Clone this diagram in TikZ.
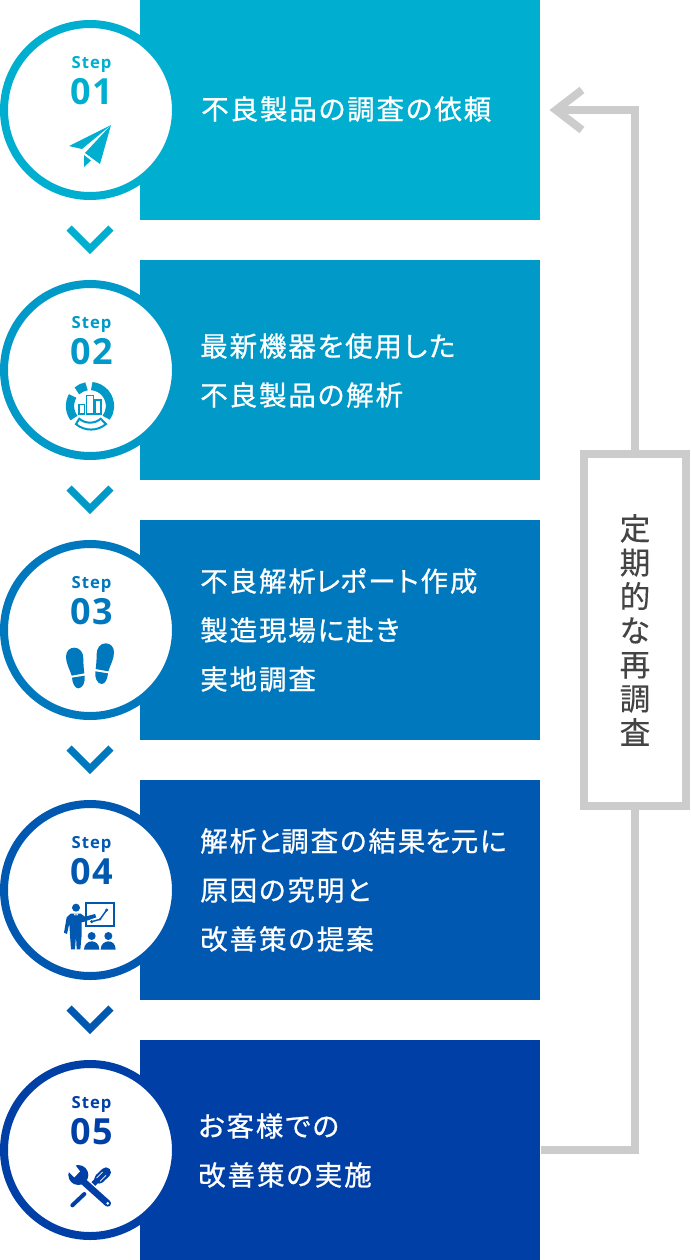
\documentclass[tikz,border=0pt]{standalone}
\usepackage{fontspec}
\setmainfont{Noto Sans CJK JP}
\newfontfamily\jpbody{Noto Sans CJK JP}[FakeBold=0.8,LetterSpace=7,RawFeature={+palt}]
\newfontfamily\jpside{Noto Sans CJK JP}[FakeBold=0.3]
\newfontfamily\stepfont{Open Sans}[BoldFont=* Bold,LetterSpace=6]
\newfontfamily\numfont{Open Sans}[BoldFont=* Bold,LetterSpace=4]
\definecolor{ca}{HTML}{00AFCF}\definecolor{cb}{HTML}{0099C8}\definecolor{cc}{HTML}{0078BD}
\definecolor{cd}{HTML}{0058B0}\definecolor{ce}{HTML}{0040A6}\definecolor{gr}{HTML}{CCCCCC}
\definecolor{ink}{HTML}{444444}
\tikzset{
 x=0.75pt,y=-0.75pt,
 card/.style={rectangle,minimum width=300pt,minimum height=165pt,inner sep=0pt,anchor=north west,fill=#1},
 ring/.style={circle,minimum size=129pt,inner sep=0pt,fill=white,draw=#1,line width=6pt},
 cardtext/.style={anchor=west,inner sep=0pt,text=white,align=left,font=\jpbody\fontsize{20.6pt}{36.75pt}\selectfont},
 steplabel/.style={inner sep=0pt,text=#1,font=\stepfont\bfseries\fontsize{12.5pt}{12.5pt}\selectfont},
 numlabel/.style={inner sep=0pt,text=#1,font=\numfont\bfseries\fontsize{27pt}{27pt}\selectfont},
 chev/.style={draw=#1,line width=5.4pt,miter limit=10},
 feedback/.style={draw=gr,line width=6pt},
 sidebox/.style={rectangle,draw=gr,line width=6pt,fill=white,minimum width=76.5pt,minimum height=264pt,inner sep=0pt},
 sidetext/.style={inner sep=0pt,text=ink,align=center,font=\jpside\fontsize{23pt}{25.5pt}\selectfont},
 icon/.style={shift={#1},x=0.25pt,y=-0.25pt},
}
\newcommand{\stepcard}[4]{%
 \node[card=#2] (box#1) at (140,#3) {};
 \node[ring=#2] (ring#1) at (90,#3+110) {};
 \node[steplabel=#2] (step#1) at (91.5,#3+64.5) {Step};
 \node[numlabel=#2] (num#1) at (91.5,#3+91.5) {#4};
}
\begin{document}
\begin{tikzpicture}
\useasboundingbox (0,0) rectangle (690,1260);
\stepcard{a}{ca}{0}{01}
\stepcard{b}{cb}{260}{02}
\stepcard{c}{cc}{520}{03}
\stepcard{d}{cd}{780}{04}
\stepcard{e}{ce}{1040}{05}
\node[cardtext] (ta) at (201,109) {不良製品の調査の依頼};
\node[cardtext] (tb) at (200,370.5) {最新機器を使用した\\不良製品の解析};
\node[cardtext] (tc) at (200,630) {不良解析\kern0pt レ\kern0pt ポート作成\\製造現場に赴き\\実地調査};
\node[cardtext] (td) at (200,890) {解析\kern0pt と\kern0pt 調査の結果\kern0pt を\kern0pt 元に\\原因の究明と\\改善策の提案};
\node[cardtext] (te) at (198,1150.5) {お客様での\\改善策の実施};
% chevrons
\draw[chev=ca] (69,228) -- (90,249) -- (111,228);
\draw[chev=cb] (69,488) -- (90,509) -- (111,488);
\draw[chev=cc] (69,748) -- (90,769) -- (111,748);
\draw[chev=cd] (69,1008) -- (90,1029) -- (111,1008);
% feedback
\node[sidebox] (side) at (635,630) {};
\node[sidetext] (sidelab) at (635,630) {定\\期\\的\\な\\再\\調\\査};
\coordinate (fbstart) at (boxe.east |- 0,1150);
\coordinate (fbtip) at (556,110);
\draw[feedback] (fbstart) -- (side.south |- fbstart) -- (side.south);
\draw[feedback] (side.north) -- (side.north |- fbtip) -- (fbtip);
\draw[feedback] (582,90) -- (fbtip) -- (582,130);
% icon 1
\fill[ca] (111,125) -- (69,146) -- (82,149) -- cycle;
\fill[ca] (111,125) -- (85,153) -- (100,164) -- cycle;
\fill[ca] (84,155) -- (91,160.5) -- (84,167) -- cycle;
% icon 2
\begin{scope}[icon={(40,300)}]
 \draw[cb,line width=6.2pt] (150,318) ++(-85:60) arc[start angle=-85,end angle=36,radius=60];
 \draw[cb,line width=6.2pt] (150,318) ++(-100:60) arc[start angle=-100,end angle=-131,radius=60];
 \draw[cb,line width=6.2pt] (150,318) ++(-150:60) arc[start angle=-150,end angle=-217,radius=60];
 \draw[cb,line width=1.5pt,fill=white] (150,318) ++(50:50) arc[start angle=50,end angle=130,radius=50] -- ++(-10,16) arc[start angle=130,end angle=50,radius=70] -- cycle;
 \draw[cb,line width=1.2pt] (117,313) rectangle (134,342);
 \draw[cb,line width=1.2pt] (140,287) rectangle (160,342);
 \draw[cb,line width=1.2pt] (165,300) rectangle (183,342);
\end{scope}
% icon 3
\begin{scope}[icon={(40,560)}]
 \fill[cc] (95,347) .. controls (88,325) and (78,310) .. (78,290) .. controls (78,272) and (90,263) .. (103,263) .. controls (120,263) and (130,278) .. (130,295) .. controls (130,310) and (131,325) .. (133,340) -- cycle;
 \fill[cc] (96,353) -- (134,347) .. controls (137,365) and (128,385) .. (115,385) .. controls (105,385) and (97,370) .. (96,353) -- cycle;
 \fill[cc] (205,334) .. controls (212,312) and (222,297) .. (222,277) .. controls (222,259) and (210,250) .. (197,250) .. controls (180,250) and (170,265) .. (170,282) .. controls (170,297) and (169,312) .. (167,327) -- cycle;
 \fill[cc] (204,340) -- (166,334) .. controls (163,352) and (172,372) .. (185,372) .. controls (195,372) and (203,357) .. (204,340) -- cycle;
\end{scope}
% icon 4
\begin{scope}[icon={(40,820)}]
 \draw[cd,line width=1.3pt] (137,248) rectangle (222,318);
 \draw[cd,line width=1.1pt] (155,305) -- (180,298) -- (200,270);
 \fill[cd] (155,305) circle[radius=5];
 \fill[cd] (180,298) circle[radius=4];
 \fill[cd] (200,270) circle[radius=5];
 \fill[cd] (108,263) circle[radius=12];
 \fill[cd] (92,281) -- (122,281) -- (135,290) -- (165,282) -- (169,292) -- (130,306) -- (125,306) -- (125,345) -- (121,388) -- (110,388) -- (108,348) -- (105,388) -- (93,388) -- (90,345) -- (88,310) -- (81,342) -- (72,338) -- (80,292) -- cycle;
 \fill[white] (101,281) -- (115,281) -- (108,292) -- cycle;
 \fill[cd] (106,283) -- (110,283) -- (111,300) -- (108,305) -- (105,300) -- cycle;
 \fill[cd] (155,348) circle[radius=12];
 \fill[cd] (205,348) circle[radius=12];
 \fill[cd] (132,389) .. controls (132,372) and (145,364) .. (155,364) .. controls (167,364) and (178,372) .. (178,389) -- cycle;
 \fill[cd] (182,389) .. controls (182,372) and (195,364) .. (205,364) .. controls (217,364) and (227,372) .. (227,389) -- cycle;
\end{scope}
% icon 5
\begin{scope}[icon={(40,1080)}]
 \fill[ce] (115,285) circle[radius=30];
 \draw[ce,line width=5pt,line cap=round] (125,300) -- (203,370);
 \fill[white] (103,292) -- (120,274) -- (98,245) -- (72,262) -- cycle;
 \fill[white] (203,370) circle[radius=4.5];
 \draw[ce,line width=3pt,line cap=round] (133,342) -- (97,376);
 \draw[ce,line width=7.5pt,line cap=round] (178,296) -- (198,277);
 \draw[ce,line width=4pt] (160,312) -- (180,292);
 \draw[white,line width=0.6pt] (170,294) -- (188,276);
 \draw[white,line width=0.6pt] (180,304) -- (198,286);
\end{scope}
\end{tikzpicture}
\end{document}
